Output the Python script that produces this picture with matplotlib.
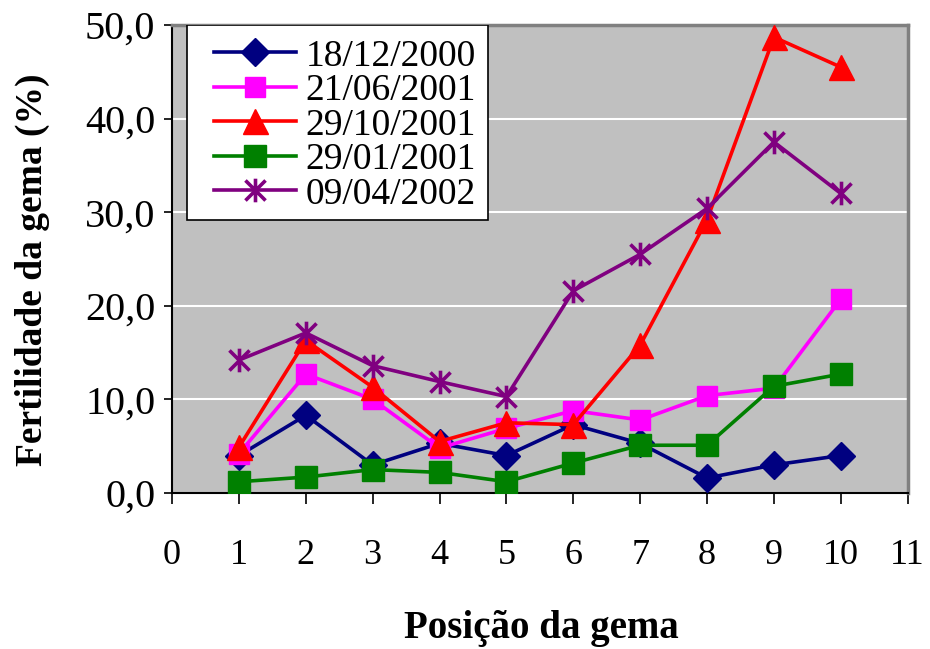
import matplotlib
matplotlib.use("Agg")
import matplotlib.pyplot as plt
from matplotlib.path import Path
from matplotlib.patches import Rectangle
from matplotlib.ticker import FuncFormatter

plt.rcParams['font.family'] = ['Liberation Serif', 'DejaVu Serif']

positions = [1, 2, 3, 4, 5, 6, 7, 8, 9, 10]
labels = ["18/12/2000", "21/06/2001", "29/10/2001", "29/01/2001", "09/04/2002"]
s_181200 = [4.0, 8.3, 3.0, 5.3, 4.0, 7.3, 5.3, 1.6, 3.0, 4.0]
s_210601 = [4.2, 12.7, 10.0, 4.8, 6.9, 8.8, 7.8, 10.4, 11.2, 20.7]
s_291001 = [4.9, 16.3, 11.3, 5.5, 7.5, 7.3, 15.8, 29.2, 48.7, 45.5]
s_290101 = [1.2, 1.7, 2.5, 2.2, 1.2, 3.2, 5.1, 5.1, 11.4, 12.7]
s_090402 = [14.2, 17.1, 13.6, 11.9, 10.3, 21.6, 25.5, 30.4, 37.5, 32.0]
xticks = list(range(0, 12))
yticks = [0, 10, 20, 30, 40, 50]

asterisk = Path([(0, -1), (0, 1), (-0.85, -0.85), (0.85, 0.85), (-0.85, 0.85), (0.85, -0.85)],
                [Path.MOVETO, Path.LINETO, Path.MOVETO, Path.LINETO, Path.MOVETO, Path.LINETO])

fig = plt.figure(figsize=(9.30, 6.49), dpi=100)
ax = fig.add_axes([0.185, 0.2404, 0.791, 0.7211])
ax.set_facecolor('#C0C0C0')

styles = [
    dict(color='#000080', marker='D', ms=14),
    dict(color='#FF00FF', marker='s', ms=14),
    dict(color='#FF0000', marker='^', ms=18),
    dict(color='#008000', marker='s', ms=16.5),
    dict(color='#800080', marker=asterisk, ms=17, mew=2.6),
]
series = [s_181200, s_210601, s_291001, s_290101, s_090402]
for data, lab, st in zip(series, labels, styles):
    kw = dict(st)
    c = kw.pop('color')
    ax.plot(positions, data, color=c, lw=2.6, label=lab,
            markerfacecolor=c, markeredgecolor=c, zorder=3, **kw)

ax.set_xlim(0, 11)
ax.set_ylim(0, 50)
ax.set_xticks(xticks)
ax.set_yticks(yticks)
ax.yaxis.set_major_formatter(FuncFormatter(lambda v, p: f"{v:.1f}".replace('.', ',')))
ax.grid(axis='y', color='white', lw=1.5, zorder=1)
ax.set_axisbelow(True)

ax.tick_params(axis='x', direction='out', length=8, width=1.2, pad=25, labelsize=26)
ax.tick_params(axis='y', direction='out', length=6, width=1.2, pad=6, labelsize=29)

for s in ['top', 'right']:
    ax.spines[s].set_color('#808080')
    ax.spines[s].set_linewidth(2.5)
for s in ['left', 'bottom']:
    ax.spines[s].set_color('black')
    ax.spines[s].set_linewidth(1.5)

fig.text(541 / 930, 1 - 638 / 649, 'Posição da gema', fontsize=28, fontweight='bold',
         ha='center', va='baseline')
fig.text(32 / 930, 1 - 270 / 649, 'Fertilidade da gema (%)', fontsize=27, fontweight='bold',
         ha='center', va='center', rotation=90)

box = Rectangle((0.0204, 0.5833), 0.4089, 0.4167, transform=ax.transAxes,
                facecolor='white', edgecolor='black', lw=1.2, zorder=4)
ax.add_patch(box)
leg = ax.legend(loc='upper left', bbox_to_anchor=(0.057, 0.970), borderaxespad=0,
                fontsize=27, handlelength=2.2, labelspacing=0.0, handletextpad=0.25,
                borderpad=0.0, frameon=False)
leg.set_zorder(5)

fig.savefig('out.png', dpi=100)
